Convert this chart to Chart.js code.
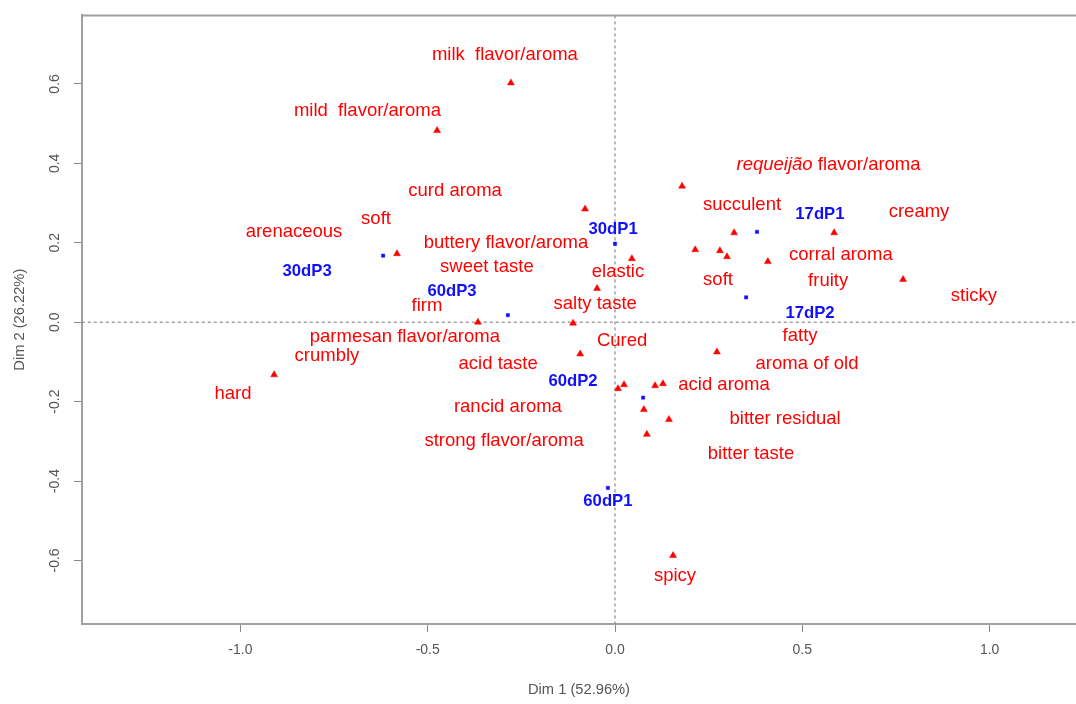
<!DOCTYPE html>
<html>
<head>
<meta charset="utf-8">
<script src="https://cdn.jsdelivr.net/npm/chart.js@4.4.1/dist/chart.umd.min.js"></script>
<style>
html,body{margin:0;padding:0;background:#fff;}
canvas{display:block;}
</style>
</head>
<body>
<canvas id="c" width="1076" height="704"></canvas>
<script>
// ---- data ----
const xTickValues = [-1.0, -0.5, 0.0, 0.5, 1.0];
const yTickValues = [-0.6, -0.4, -0.2, 0.0, 0.2, 0.4, 0.6];
const xTitle = "Dim 1 (52.96%)";
const yTitle = "Dim 2 (26.22%)";

// attribute points (red triangles)
const attrX = [-0.278, -0.475, 0.179, -0.080, 0.318, 0.585, -0.582, 0.045, 0.214, 0.280, 0.299, 0.408, 0.769, -0.048, -0.366, -0.112, -0.093, 0.272, 0.008, 0.024, 0.107, 0.128, 0.077, 0.144, 0.085, -0.910, 0.155];
const attrY = [0.6025, 0.4825, 0.3425, 0.285, 0.225, 0.225, 0.1725, 0.160, 0.1825, 0.180, 0.165, 0.1525, 0.1075, 0.085, 0.000, -0.0025, -0.080, -0.075, -0.1675, -0.1575, -0.160, -0.155, -0.220, -0.245, -0.2825, -0.1325, -0.5875];

// sample points (blue)
const sampleX = [0.000, 0.379, -0.619, -0.286, 0.350, 0.075, -0.019];
const sampleY = [0.1975, 0.2275, 0.1675, 0.0175, 0.0625, -0.190, -0.4175];

// attribute labels
const attrLabels = ["milk  flavor/aroma", "mild  flavor/aroma", "requeijão| flavor/aroma", "curd aroma", "succulent", "creamy", "soft", "arenaceous", "buttery flavor/aroma", "corral aroma", "sweet taste", "elastic", "soft", "fruity", "sticky", "firm", "salty taste", "parmesan flavor/aroma", "fatty", "crumbly", "Cured", "acid taste", "aroma of old", "hard", "acid aroma", "rancid aroma", "bitter residual", "strong flavor/aroma", "bitter taste", "spicy"];
const attrLabelX = [-0.294, -0.661, 0.570, -0.427, 0.339, 0.8115, -0.638, -0.857, -0.291, 0.603, -0.342, 0.008, 0.275, 0.569, 0.958, -0.502, -0.053, -0.561, 0.494, -0.769, 0.019, -0.312, 0.5125, -1.020, 0.291, -0.286, 0.454, -0.296, 0.363, 0.160];
const attrLabelY = [0.6725, 0.5325, 0.395, 0.330, 0.295, 0.2775, 0.260, 0.2275, 0.200, 0.170, 0.140, 0.1275, 0.1075, 0.105, 0.065, 0.040, 0.045, -0.0375, -0.035, -0.085, -0.0475, -0.105, -0.105, -0.180, -0.1575, -0.2125, -0.2425, -0.300, -0.3325, -0.640];

// sample labels
const sampleLabels = ["30dP1", "17dP1", "30dP3", "60dP3", "17dP2", "60dP2", "60dP1"];
const sampleLabelX = [-0.005, 0.547, -0.822, -0.435, 0.5205, -0.112, -0.019];
const sampleLabelY = [0.2325, 0.2725, 0.1275, 0.0775, 0.0225, -0.150, -0.4525];

// ---- chart ----
const RED = '#ff0000';
const BLUE = '#1010ff';
const FONT = "'Liberation Sans', Arial, sans-serif";
const RED_SIZE = 18.5;
const BLUE_SIZE = 16.7;

const labelPlugin = {
  id: 'labels',
  afterDatasetsDraw(chart) {
    const ctx = chart.ctx;
    const xs = chart.scales.x, ys = chart.scales.y;
    ctx.save();
    ctx.textBaseline = 'middle';
    attrLabels.forEach((t, i) => {
      const px = xs.getPixelForValue(attrLabelX[i]);
      const py = ys.getPixelForValue(attrLabelY[i]);
      ctx.fillStyle = RED;
      if (t.indexOf('|') >= 0) {
        const parts = t.split('|');
        ctx.font = "italic " + RED_SIZE + "px " + FONT;
        const w1 = ctx.measureText(parts[0]).width;
        ctx.font = RED_SIZE + "px " + FONT;
        const w2 = ctx.measureText(parts[1]).width;
        const sx = px - (w1 + w2) / 2;
        ctx.textAlign = 'left';
        ctx.font = "italic " + RED_SIZE + "px " + FONT;
        ctx.fillText(parts[0], sx, py);
        ctx.font = RED_SIZE + "px " + FONT;
        ctx.fillText(parts[1], sx + w1, py);
      } else {
        ctx.font = RED_SIZE + "px " + FONT;
        ctx.textAlign = 'center';
        ctx.fillText(t, px, py);
      }
    });
    ctx.font = "bold " + BLUE_SIZE + "px " + FONT;
    ctx.textAlign = 'center';
    ctx.fillStyle = BLUE;
    sampleLabels.forEach((t, i) => {
      ctx.fillText(t, xs.getPixelForValue(sampleLabelX[i]), ys.getPixelForValue(sampleLabelY[i]));
    });
    ctx.restore();
  },
  afterDraw(chart) {
    const {ctx, chartArea} = chart;
    ctx.save();
    ctx.strokeStyle = '#a0a0a0';
    ctx.lineWidth = 2;
    ctx.beginPath();
    ctx.moveTo(chartArea.left - 1, chartArea.top);
    ctx.lineTo(chartArea.right, chartArea.top);
    ctx.stroke();
    ctx.restore();
  }
};

const zeroLineStyle = {
  type: 'line', borderColor: '#8a8a8a', borderWidth: 1.2, borderDash: [3, 3],
  pointRadius: 0, fill: false, order: 5
};

new Chart(document.getElementById('c'), {
  type: 'scatter',
  data: {
    datasets: [
      Object.assign({ data: [{x: -2, y: 0}, {x: 2, y: 0}] }, zeroLineStyle),
      Object.assign({ data: [{x: 0, y: -2}, {x: 0, y: 2}] }, zeroLineStyle),
      {
        data: attrX.map((v, i) => ({x: v, y: attrY[i]})),
        pointStyle: 'triangle', pointRadius: 4, pointBackgroundColor: RED,
        pointBorderColor: RED, pointBorderWidth: 0.5, order: 2
      },
      {
        data: sampleX.map((v, i) => ({x: v, y: sampleY[i]})),
        pointStyle: 'rect', pointRadius: 2.3, pointBackgroundColor: BLUE,
        pointBorderColor: BLUE, pointBorderWidth: 0.5, order: 1
      }
    ]
  },
  options: {
    responsive: false,
    animation: false,
    devicePixelRatio: 1,
    layout: { autoPadding: false, padding: { top: 11, right: 0, left: 0, bottom: 0 } },
    plugins: { legend: { display: false }, tooltip: { enabled: false } },
    scales: {
      x: {
        type: 'linear', min: -1.4229, max: 1.2306,
        afterBuildTicks: s => { s.ticks = xTickValues.map(v => ({value: v})); },
        afterFit: s => { s.height = 80; },
        ticks: {
          callback: v => v.toFixed(1), color: '#555', padding: 10,
          font: { family: FONT, size: 14 }, maxRotation: 0
        },
        grid: { display: true, drawOnChartArea: false, drawTicks: true, tickLength: 8, color: '#888', lineWidth: 1 },
        border: { display: true, color: '#a0a0a0', width: 2 },
        title: { display: true, text: xTitle, color: '#555', font: { family: FONT, size: 14.7 }, padding: { top: 0, bottom: 5 } }
      },
      y: {
        type: 'linear', min: -0.76, max: 0.7725,
        afterBuildTicks: s => { s.ticks = yTickValues.map(v => ({value: v})); },
        afterFit: s => { s.width = 82; },
        ticks: {
          callback: v => v.toFixed(1), color: '#555', padding: 7,
          font: { family: FONT, size: 14 }, minRotation: 90, maxRotation: 90, crossAlign: 'center'
        },
        grid: { display: true, drawOnChartArea: false, drawTicks: true, tickLength: 8, color: '#888', lineWidth: 1 },
        border: { display: true, color: '#a0a0a0', width: 2 },
        title: { display: true, text: yTitle, color: '#555', font: { family: FONT, size: 14.7 }, padding: { top: 11, bottom: 0 } }
      }
    }
  },
  plugins: [labelPlugin]
});
</script>
</body>
</html>
